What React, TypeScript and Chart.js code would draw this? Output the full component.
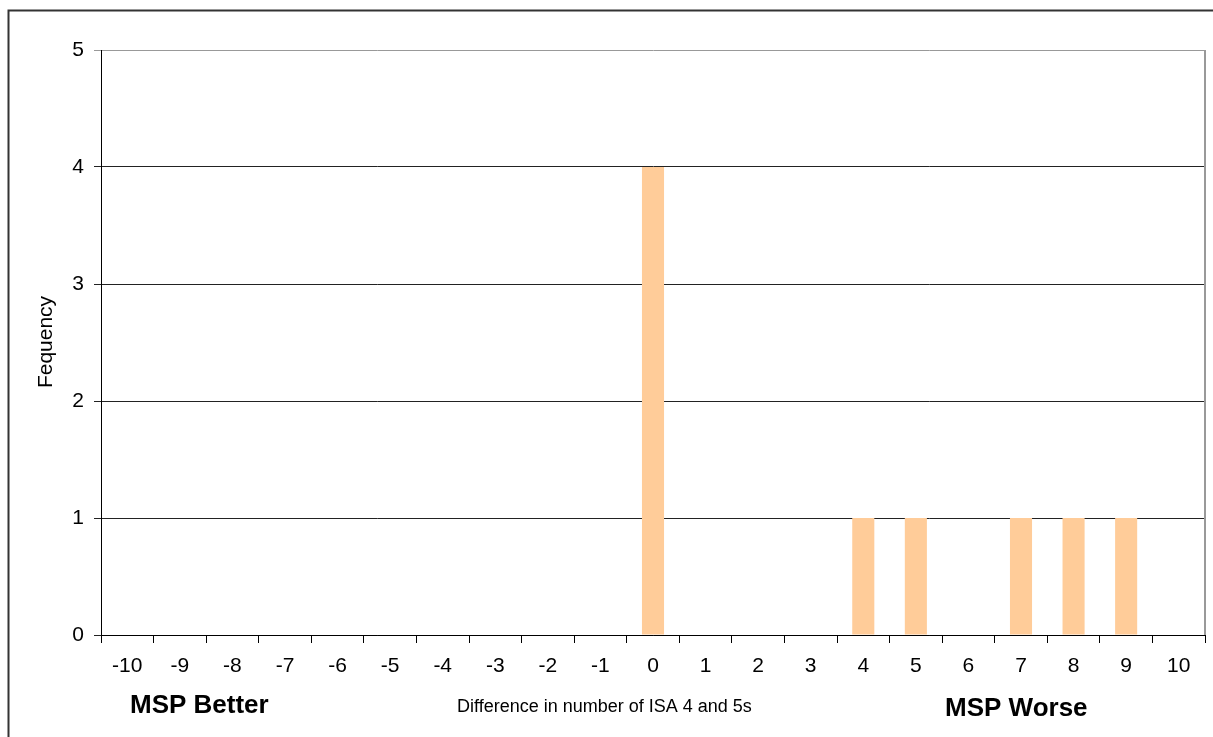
import React, { useEffect, useRef } from "react";
import { Chart, registerables } from "chart.js";

Chart.register(...registerables);

const categories = ["-10", "-9", "-8", "-7", "-6", "-5", "-4", "-3", "-2", "-1", "0", "1", "2", "3", "4", "5", "6", "7", "8", "9", "10"];
const frequency = [0, 0, 0, 0, 0, 0, 0, 0, 0, 0, 4, 0, 0, 0, 1, 1, 0, 1, 1, 1, 0];
const yTitle = "Fequency";
const xTitle = "Difference in number of ISA 4 and 5s";
const leftNote = "MSP Better";
const rightNote = "MSP Worse";

const FONT = "'Liberation Sans', Arial, sans-serif";

const decorPlugin = {
  id: "decor",
  afterDraw(chart: any) {
    const ctx = chart.ctx;
    const a = chart.chartArea;
    ctx.save();
    // outer frame
    ctx.strokeStyle = "#333";
    ctx.lineWidth = 2;
    ctx.beginPath();
    ctx.moveTo(8.5, 745);
    ctx.lineTo(8.5, 10.5);
    ctx.lineTo(1220, 10.5);
    ctx.stroke();
    // plot right border
    ctx.strokeStyle = "#999";
    ctx.lineWidth = 2;
    ctx.beginPath();
    ctx.moveTo(a.right, a.top);
    ctx.lineTo(a.right, a.bottom);
    ctx.stroke();
    // texts
    ctx.fillStyle = "#000";
    ctx.textBaseline = "alphabetic";
    ctx.textAlign = "left";
    ctx.font = "bold 26px " + FONT;
    ctx.fillText(leftNote, 130, 713);
    ctx.fillText(rightNote, 945, 716);
    ctx.font = "18px " + FONT;
    ctx.fillText(xTitle, 457, 712);
    // y title
    ctx.save();
    ctx.translate(46, 342);
    ctx.rotate(-Math.PI / 2);
    ctx.textAlign = "center";
    ctx.textBaseline = "middle";
    ctx.font = "21px " + FONT;
    ctx.fillText(yTitle, 0, 0);
    ctx.restore();
    ctx.restore();
  },
};

export default function App() {
  const ref = useRef<HTMLCanvasElement>(null);
  useEffect(() => {
    if (!ref.current) return;
    const chart = new Chart(ref.current, {
      type: "bar",
      data: {
        labels: categories,
        datasets: [
          {
            data: frequency,
            backgroundColor: "#FFCC99",
            borderWidth: 0,
            barPercentage: 0.42,
            categoryPercentage: 1,
          },
        ],
      },
      options: {
        responsive: false,
        animation: false,
        devicePixelRatio: 1,
        layout: { padding: { left: 0, right: 8, top: 50, bottom: 0 } },
        plugins: { legend: { display: false }, tooltip: { enabled: false } },
        scales: {
          x: {
            offset: true,
            grid: {
              offset: true,
              drawOnChartArea: false,
              drawTicks: true,
              tickLength: 8,
              color: "#000",
            },
            border: { display: true, color: "#000", width: 1 },
            ticks: {
              color: "#000",
              font: { family: FONT, size: 21 },
              padding: 11,
              maxRotation: 0,
              autoSkip: false,
            },
            afterFit: (s: any) => {
              s.height = 102;
            },
          },
          y: {
            min: 0,
            max: 5,
            ticks: {
              stepSize: 1,
              color: "#000",
              font: { family: FONT, size: 21 },
              padding: 10,
            },
            grid: {
              tickLength: 7,
              color: (c: any) => (c.tick && c.tick.value === 5 ? "#999" : "#222"),
              lineWidth: 1,
            },
            border: { display: true, color: "#000", width: 1 },
            afterFit: (s: any) => {
              s.width = 101;
            },
          },
        },
      },
      plugins: [decorPlugin],
    });
    return () => chart.destroy();
  }, []);
  return (
    <div style={{ position: "fixed", left: 0, top: 0, width: 1213, height: 737, background: "#fff" }}>
      <canvas ref={ref} width={1213} height={737} style={{ display: "block" }} />
    </div>
  );
}
